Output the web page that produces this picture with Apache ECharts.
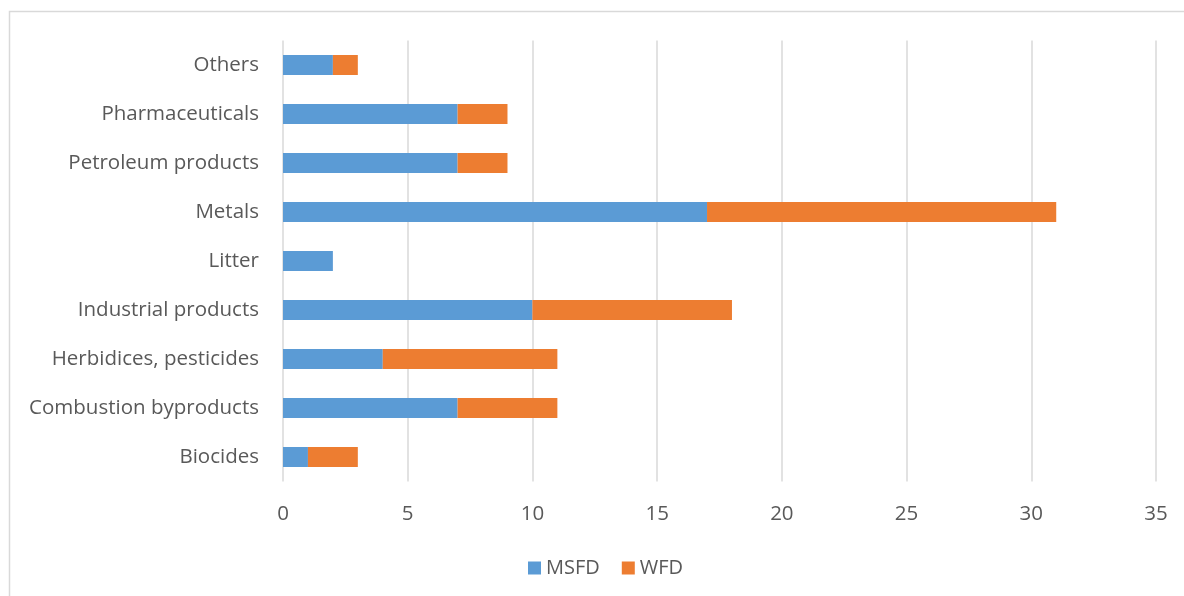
<!DOCTYPE html>
<html>
<head>
<meta charset="utf-8">
<script src="https://cdn.jsdelivr.net/npm/echarts@6/dist/echarts.min.js"></script>
<style>
  html, body { margin: 0; padding: 0; background: #fff; }
  #chart { width: 1184px; height: 596px; }
</style>
</head>
<body>
<div id="chart"></div>
<script>
// Contaminant groups, listed bottom to top along the category axis
const categories = ['Biocides', 'Combustion byproducts', 'Herbidices, pesticides', 'Industrial products', 'Litter', 'Metals', 'Petroleum products', 'Pharmaceuticals', 'Others'];
const msfd = [1, 7, 4, 10, 2, 17, 7, 7, 2];
const wfd = [2, 4, 7, 8, 0, 14, 2, 2, 1];
const xTicks = { min: 0, max: 35, interval: 5 };

const textColor = '#595959';
const fontFamily = '"Open Sans", "Liberation Sans", sans-serif';

const chart = echarts.init(document.getElementById('chart'), null, { renderer: 'canvas' });
chart.setOption({
  animation: false,
  backgroundColor: '#fff',
  textStyle: { fontFamily: fontFamily, color: textColor },
  graphic: [{
    type: 'rect',
    shape: { x: 9.5, y: 11.5, width: 1200, height: 620 },
    style: { fill: 'none', stroke: '#D9D9D9', lineWidth: 1.5 },
    silent: true,
    z: -1
  }],
  grid: { left: 283, right: 28, top: 40.5, bottom: 114.5, containLabel: false },
  legend: {
    left: 523,
    top: 553,
    itemWidth: 13,
    itemHeight: 13,
    itemGap: 22,
    icon: 'rect',
    textStyle: { fontSize: 20, color: textColor, fontFamily: fontFamily },
    data: ['MSFD', 'WFD']
  },
  xAxis: {
    type: 'value',
    min: xTicks.min,
    max: xTicks.max,
    interval: xTicks.interval,
    axisLine: { show: false },
    axisTick: { show: false },
    axisLabel: { fontSize: 20.5, color: textColor, margin: 22, fontFamily: fontFamily },
    splitLine: { show: true, lineStyle: { color: '#D9D9D9', width: 1.5 } }
  },
  yAxis: {
    type: 'category',
    data: categories,
    axisLine: { show: false },
    axisTick: { show: false },
    axisLabel: { fontSize: 20.5, color: textColor, margin: 24, fontFamily: fontFamily, padding: [6, 0, 0, 0] }
  },
  series: [
    {
      name: 'MSFD', type: 'bar', stack: 'total', data: msfd, barWidth: 20,
      itemStyle: { color: '#5B9BD5' }
    },
    {
      name: 'WFD', type: 'bar', stack: 'total', data: wfd, barWidth: 20,
      itemStyle: { color: '#ED7D31' }
    }
  ]
});
</script>
</body>
</html>
